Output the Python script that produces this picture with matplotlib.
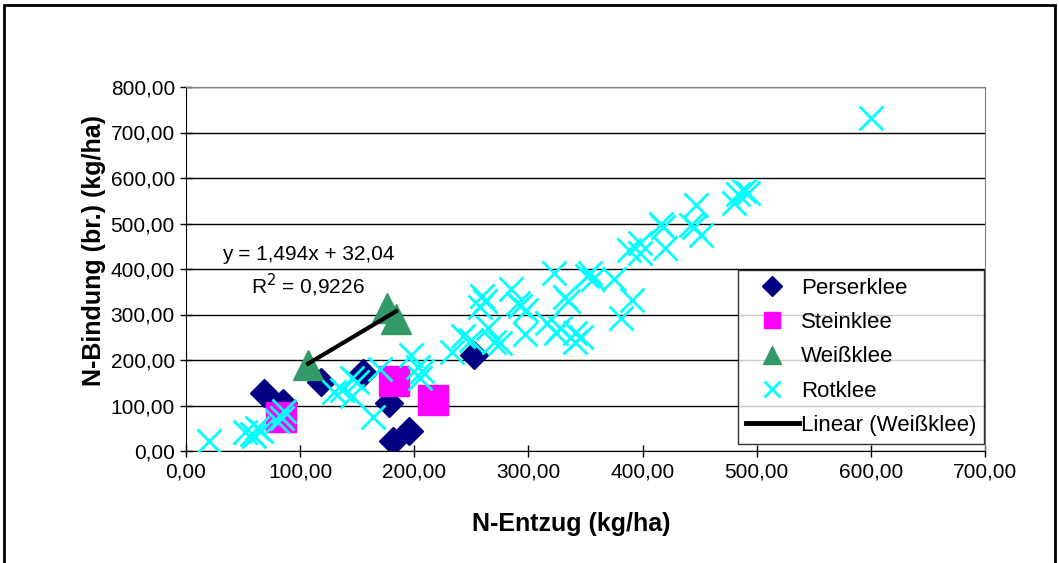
import matplotlib
matplotlib.use('Agg')
import matplotlib.pyplot as plt
from matplotlib.lines import Line2D
from matplotlib.patches import Rectangle
from matplotlib.ticker import FuncFormatter, MultipleLocator
import numpy as np

plt.rcParams['font.family'] = ['Liberation Sans', 'DejaVu Sans']

# N-Entzug (x) / N-Bindung (y), kg/ha
perser_x = [68, 85, 118, 155, 178, 181, 195, 252]
perser_y = [128, 105, 152, 172, 105, 22, 45, 210]

stein_x = [83, 182, 216]
stein_y = [75, 153, 112]

weiss_x = [107, 176, 184]
weiss_y = [190, 314, 290]

rot_x = [20, 52, 58, 62, 66, 60, 80, 86, 84,
         130, 137, 145, 150, 145, 164, 170, 197, 203, 205, 207,
         233, 243, 250, 258, 259, 262, 265, 270, 275, 285, 291, 293, 297, 298,
         316, 322, 324, 328, 332, 335, 341, 341, 346, 351, 357, 354,
         375, 381, 391, 388, 398, 398, 416, 420, 418, 442, 447, 445, 451,
         480, 484, 489, 492, 600]
rot_y = [22, 42, 38, 50, 44, 33, 65, 88, 72,
         130, 135, 120, 152, 160, 75, 180, 212, 185, 160, 175,
         218, 253, 245, 317, 340, 330, 270, 240, 237, 357, 325, 318, 258, 310,
         281, 391, 259, 270, 339, 330, 259, 240, 250, 385, 378, 392,
         378, 292, 332, 442, 457, 435, 500, 446, 493, 497, 541, 493, 475,
         545, 565, 572, 567, 732]

eq_text = 'y = 1,494x + 32,04'
r2_text = 'R$^2$ = 0,9226'

fig = plt.figure(figsize=(10.59, 5.63), dpi=100)
ax = fig.add_axes([186/1059, 1-451/563, (985-186)/1059, (451-87)/563])

# outer chart border
fig.patches.append(Rectangle((4/1059, -0.05), (1055-4)/1059, 1.05-5/563,
                             transform=fig.transFigure, fill=False,
                             edgecolor='black', linewidth=2))

ax.plot(rot_x, rot_y, linestyle='none', marker='x', markersize=17,
        markeredgewidth=2, color='#00FFFF', zorder=3)
ax.plot(perser_x, perser_y, linestyle='none', marker='D', markersize=14,
        color='#000080', zorder=2)
ax.plot(stein_x, stein_y, linestyle='none', marker='s', markersize=21,
        color='#FF00FF', zorder=2)
ax.plot(weiss_x, weiss_y, linestyle='none', marker='^', markersize=21,
        color='#339966', zorder=2)

# linear trend for Weißklee
k, d = np.polyfit(weiss_x, weiss_y, 1)
xt = np.array([min(weiss_x), max(weiss_x)])
ax.plot(xt, k*xt + d, color='black', linewidth=3, zorder=4)

ax.text(107, 431, eq_text, ha='center', va='center', fontsize=15)
ax.text(107, 365, r2_text, ha='center', va='center', fontsize=15)

ax.set_xlim(0, 700)
ax.set_ylim(0, 800)
ax.xaxis.set_major_locator(MultipleLocator(100))
ax.yaxis.set_major_locator(MultipleLocator(100))
fmt = FuncFormatter(lambda v, p: '{:.2f}'.format(v).replace('.', ','))
ax.xaxis.set_major_formatter(fmt)
ax.yaxis.set_major_formatter(fmt)
ax.tick_params(direction='inout', length=8, width=1, labelsize=15, pad=4)
ax.grid(axis='y', color='black', linewidth=1)
ax.set_axisbelow(True)
for s in ['top', 'right']:
    ax.spines[s].set_color('#808080')
for s in ['left', 'bottom']:
    ax.spines[s].set_color('black')

ax.set_xlabel('N-Entzug (kg/ha)', fontsize=18, fontweight='bold')
ax.set_ylabel('N-Bindung (br.) (kg/ha)', fontsize=18, fontweight='bold')
ax.xaxis.set_label_coords((571-186)/799, (451-512)/364)
ax.yaxis.set_label_coords((106-186)/799, (451-250)/364)

handles = [
    Line2D([], [], linestyle='none', marker='D', markersize=10, color='#000080'),
    Line2D([], [], linestyle='none', marker='s', markersize=12, color='#FF00FF'),
    Line2D([], [], linestyle='none', marker='^', markersize=13, color='#339966'),
    Line2D([], [], linestyle='none', marker='x', markersize=11, markeredgewidth=2, color='#00FFFF'),
    Line2D([], [], color='black', linewidth=3.5),
]
labels = ['Perserklee', 'Steinklee', 'Weißklee', 'Rotklee', 'Linear (Weißklee)']
leg = ax.legend(handles, labels, loc='upper left',
                bbox_to_anchor=((738-186)/(985-186), (451-270)/(451-87)),
                fontsize=16, frameon=True, fancybox=False, edgecolor='black',
                handlelength=2.4, handletextpad=0.1, borderpad=0.35,
                labelspacing=0.6, borderaxespad=0)
leg.get_frame().set_linewidth(1)
leg.set_zorder(10)

fig.savefig('out.png', dpi=100)
